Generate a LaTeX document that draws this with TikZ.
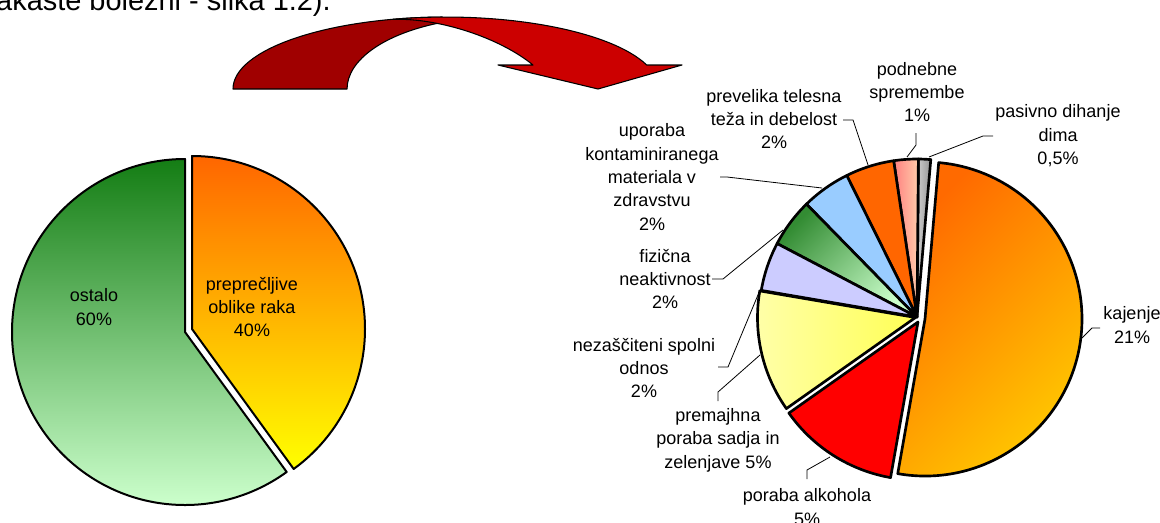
\documentclass[tikz,border=0pt]{standalone}
\usepackage{fontspec}
\setmainfont{Liberation Sans}
\definecolor{arrdark}{RGB}{160,0,0}
\definecolor{arrred}{RGB}{204,0,0}
\definecolor{cOrA}{RGB}{255,102,0}
\definecolor{cYel}{RGB}{255,255,0}
\definecolor{cGrD}{RGB}{20,125,20}
\definecolor{cGrL}{RGB}{204,255,204}
\definecolor{kajA}{RGB}{255,106,0}
\definecolor{kajB}{RGB}{255,204,0}
\definecolor{alkC}{RGB}{255,0,0}
\definecolor{sadA}{RGB}{255,255,170}
\definecolor{sadB}{RGB}{255,255,85}
\definecolor{spoC}{RGB}{204,204,255}
\definecolor{fizA}{RGB}{51,140,51}
\definecolor{fizB}{RGB}{204,255,204}
\definecolor{konC}{RGB}{153,204,255}
\definecolor{debC}{RGB}{255,102,0}
\definecolor{podA}{RGB}{255,128,128}
\definecolor{podB}{RGB}{255,204,170}
\definecolor{pasA}{RGB}{205,205,205}
\definecolor{pasB}{RGB}{150,150,150}
\tikzset{
  sl/.style n args={5}{insert path={(#1,#2) -- ++({#3*cos(#4)},{-#3*sin(#4)}) arc[start angle={-(#4)}, end angle={-(#5)}, radius=#3] -- cycle}},
  rp/.style={draw=black, line width=2pt, line join=round},
  lp/.style={draw=black, line width=1.5pt, line join=round},
  arr/.style={draw=black, line width=0.8pt, line join=round},
  lbl/.style={align=center, inner sep=0pt, font=\fontsize{13.5}{17.6}\selectfont},
  leader/.style={draw=black, line width=0.6pt},
}
\begin{document}
\begin{tikzpicture}[x=0.75pt,y=-0.75pt]
\useasboundingbox (0,0) rectangle (1160,522);
\clip (0,0) rectangle (1160,522);
\fill[white] (0,0) rectangle (1160,522);

% clipped caption text at the top
\node[anchor=base east, inner sep=0pt, font=\fontsize{21.7}{26}\selectfont] (cap) at (331,10) {akaste bolezni - slika 1.2).};

% curved arrow
\coordinate (P) at (443,22.2);
\path[arr, fill=arrdark] (233,89) arc[start angle=-180, end angle=-91, x radius=213, y radius=72] -- (P) arc[start angle=-111.9, end angle=-180, x radius=153, y radius=72] -- cycle;
\path[arr, fill=arrred] (393,19.3) arc[start angle=-104.4, end angle=-19.5, x radius=213, y radius=72] -- (682,65) -- (598,89) -- (498,65) -- (533,65) .. controls (500,38) and (440,18) .. (393,19.3) -- cycle;

% left pie
\shade[lp, top color=cGrD, bottom color=cGrL, sl={185}{332}{173}{90}{306}];
\shade[lp, top color=cOrA, bottom color=cYel, sl={192}{329}{173}{90}{-54}];
\node[lbl] (ostalo) at (94,307) {ostalo\\60\%};
\node[lbl] (prepr) at (252,307) {preprečljive\\oblike raka\\40\%};

% right pie
\shade[rp, left color=pasA, right color=pasB, sl={917}{317}{158}{85}{89.5}];
\shade[rp, right color=podB, left color=podA, sl={917}{317}{158}{89.5}{98.5}];
\path[rp, fill=debC, sl={917}{317}{158}{98.5}{116.4}];
\path[rp, fill=konC, sl={917}{317}{158}{116.4}{134.4}];
\shade[rp, top color=fizA, bottom color=fizB, shading angle=45, sl={917}{317}{158}{134.4}{152.3}];
\path[rp, fill=spoC, sl={917}{317}{158}{152.3}{170.3}];
\shade[rp, left color=sadA, right color=sadB, sl={915.5}{317.5}{158}{170.3}{215.2}];
\path[rp, fill=alkC, sl={918}{322}{158}{215.2}{260}];
\shade[rp, top color=kajA, bottom color=kajB, shading angle=45, sl={925}{319}{157}{-100}{85}];

% labels
\node[lbl] (kaj) at (1132,325) {kajenje\\21\%};
\node[lbl] (alk) at (807,507) {poraba alkohola\\5\%};
\node[lbl] (sad) at (718,440) {premajhna\\poraba sadja in\\zelenjave 5\%};
\node[lbl] (spo) at (644,368) {nezaščiteni spolni\\odnos\\2\%};
\node[lbl] (fiz) at (665,279) {fizična\\neaktivnost\\2\%};
\node[lbl] (kon) at (652,177) {uporaba\\kontaminiranega\\materiala v\\zdravstvu\\2\%};
\node[lbl] (deb) at (774,119) {prevelika telesna\\teža in debelost\\2\%};
\node[lbl] (pod) at (917,92) {podnebne\\spremembe\\1\%};
\node[lbl] (pas) at (1058,136) {pasivno dihanje\\dima\\0,5\%};

% leader end points
\coordinate (kajS) at (1082,338); \coordinate (kajE) at (1100,328);
\coordinate (alkS) at (830,457);  \coordinate (alkE) at (807,479);
\coordinate (sadS) at (760,355);  \coordinate (sadE) at (718,401);
\coordinate (spoS) at (760,290);  \coordinate (spoE) at (718,367);
\coordinate (fizS) at (783,230);  \coordinate (fizE) at (712,279);
\coordinate (konS) at (822,188);  \coordinate (konE) at (720,177);
\coordinate (debS) at (868,165);  \coordinate (debE) at (843,120);
\coordinate (podS) at (907,157);  \coordinate (podE) at (916,133);
\coordinate (pasS) at (929,157);  \coordinate (pasE) at (993,136);

\draw[leader] (kajS) -- (1092,328) -- (kajE);
\draw[leader] (alkS) -- (807,470) -- (alkE);
\draw[leader] (sadS) -- (718,392) -- (sadE);
\draw[leader] (spoS) -- (728,367) -- (spoE);
\draw[leader] (fizS) -- (723,279) -- (fizE);
\draw[leader] (konS) -- (727,177) -- (konE);
\draw[leader] (debS) -- (853,120) -- (debE);
\draw[leader] (podS) -- (916,145) -- (podE);
\draw[leader] (pasS) -- (983,136) -- (pasE);
\end{tikzpicture}
\end{document}
